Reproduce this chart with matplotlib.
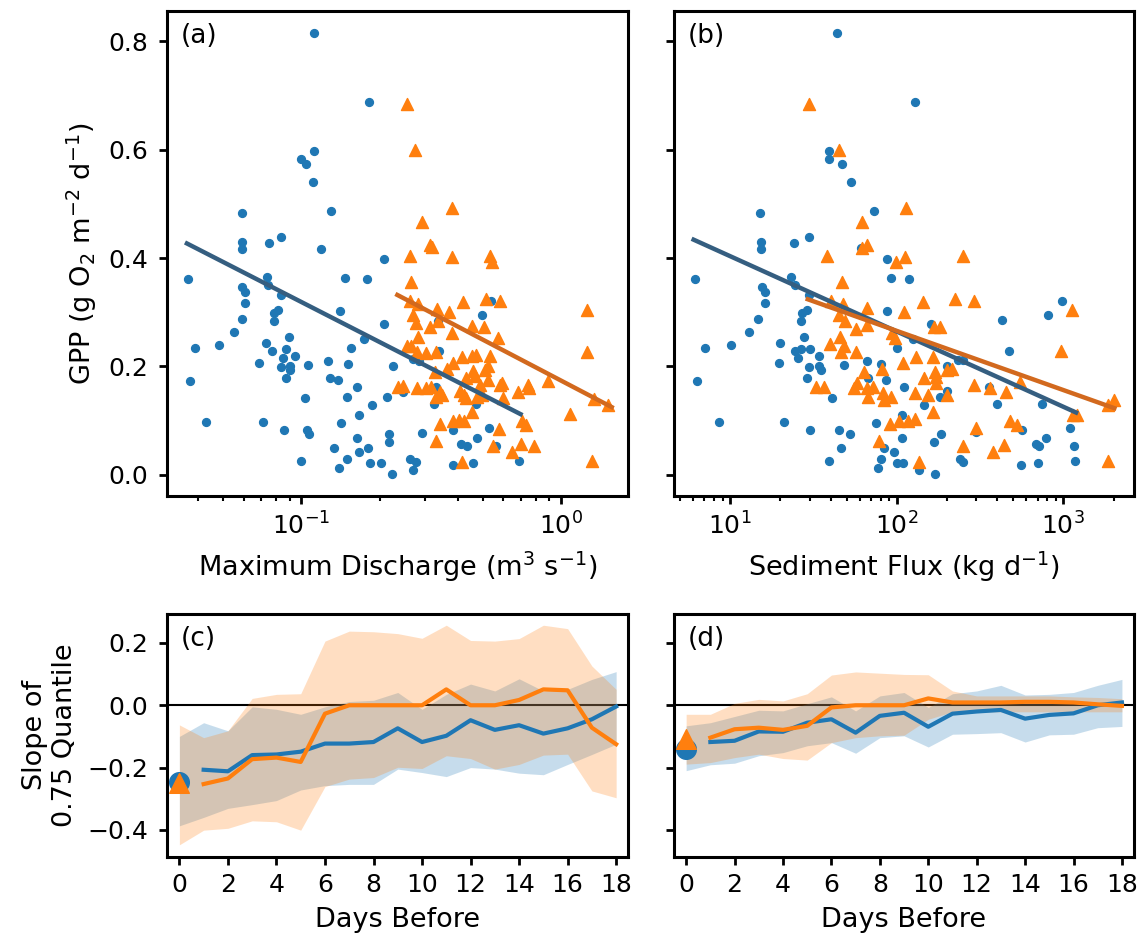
import numpy as np
import matplotlib
matplotlib.use("Agg")
import matplotlib.pyplot as plt

# ---- panel (a): GPP vs maximum discharge ----
discharge_blue = [0.112, 0.182, 0.112, 0.100, 0.104, 0.111, 0.130, 0.0589, 0.0589, 0.0588,
                  0.0750, 0.0835, 0.119, 0.208, 0.0366, 0.0735, 0.0745, 0.1466, 0.179, 0.0592,
                  0.0607, 0.0834, 0.0605, 0.0813, 0.0782, 0.141, 0.0588, 0.0782, 0.494, 0.536,
                  0.207, 0.336, 0.0548, 0.0894, 0.174, 0.0390, 0.0482, 0.0731, 0.0768, 0.0873,
                  0.1555, 0.338, 0.094, 0.0848, 0.0685, 0.0834, 0.0902, 0.0902, 0.106, 0.127,
                  0.151, 0.225, 0.0875, 0.0373, 0.129, 0.138, 0.270, 0.284, 0.163, 0.245,
                  0.103, 0.150, 0.213, 0.187, 0.324, 0.472, 0.166, 0.0427, 0.0711, 0.142,
                  0.0853, 0.105, 0.107, 0.291, 0.385, 0.526, 0.218, 0.217, 0.164, 0.473,
                  0.133, 0.167, 0.180, 0.413, 0.436, 0.561, 0.100, 0.150, 0.139, 0.183,
                  0.202, 0.224, 0.262, 0.275, 0.268, 0.385, 0.458, 0.689, 0.329]
gpp_blue_a = [0.816, 0.688, 0.597, 0.582, 0.574, 0.541, 0.487, 0.484, 0.430, 0.416,
              0.427, 0.439, 0.417, 0.399, 0.362, 0.365, 0.350, 0.363, 0.361, 0.347,
              0.337, 0.332, 0.317, 0.305, 0.298, 0.302, 0.288, 0.283, 0.295, 0.321,
              0.278, 0.284, 0.264, 0.254, 0.251, 0.235, 0.240, 0.243, 0.229, 0.233,
              0.234, 0.229, 0.219, 0.216, 0.206, 0.199, 0.201, 0.193, 0.203, 0.211,
              0.204, 0.201, 0.179, 0.174, 0.179, 0.175, 0.213, 0.210, 0.162, 0.153,
              0.142, 0.143, 0.143, 0.129, 0.130, 0.131, 0.111, 0.097, 0.097, 0.095,
              0.083, 0.083, 0.076, 0.078, 0.082, 0.087, 0.076, 0.060, 0.068, 0.068,
              0.049, 0.042, 0.049, 0.057, 0.054, 0.053, 0.025, 0.029, 0.013, 0.021,
              0.021, 0.002, 0.029, 0.023, 0.008, 0.019, 0.022, 0.025, 0.163]

discharge_orange = [0.255, 0.274, 0.379, 0.292, 0.313, 0.317, 0.262, 0.381, 0.532, 0.543,
                    0.263, 0.516, 0.582, 0.418, 0.262, 0.280, 0.268, 0.332, 0.369, 0.276,
                    1.256, 0.312, 0.336, 0.454, 0.503, 0.381, 0.280, 0.573, 0.254, 0.265,
                    0.278, 0.302, 0.330, 0.414, 0.452, 0.470, 0.532, 1.256, 0.385, 0.363,
                    0.327, 0.459, 0.508, 0.524, 0.432, 0.466, 0.524, 0.582, 0.593, 0.489,
                    0.236, 0.245, 0.279, 0.303, 0.316, 0.341, 0.331, 0.348, 0.407, 0.423,
                    0.430, 0.473, 0.494, 0.600, 0.684, 0.748, 0.754, 0.888, 1.334, 1.510,
                    1.083, 0.452, 0.385, 0.403, 0.421, 0.343, 0.704, 0.735, 0.578, 0.330,
                    0.547, 0.645, 0.700, 0.786, 0.414, 1.313]
gpp_orange_a = [0.684, 0.599, 0.492, 0.466, 0.425, 0.421, 0.404, 0.402, 0.404, 0.393,
                0.355, 0.324, 0.321, 0.319, 0.320, 0.316, 0.295, 0.306, 0.301, 0.281,
                0.305, 0.273, 0.283, 0.275, 0.272, 0.262, 0.254, 0.253, 0.238, 0.237,
                0.227, 0.224, 0.226, 0.218, 0.220, 0.222, 0.219, 0.227, 0.206, 0.195,
                0.190, 0.192, 0.194, 0.200, 0.178, 0.182, 0.175, 0.166, 0.169, 0.166,
                0.163, 0.164, 0.161, 0.160, 0.163, 0.152, 0.144, 0.147, 0.154, 0.147,
                0.141, 0.144, 0.147, 0.141, 0.152, 0.166, 0.160, 0.173, 0.140, 0.128,
                0.112, 0.116, 0.100, 0.101, 0.100, 0.094, 0.100, 0.092, 0.085, 0.063,
                0.053, 0.042, 0.057, 0.053, 0.023, 0.026]

# fitted lines (end points)
fit_a_blue_x = [0.0362, 0.698]
fit_a_blue_y = [0.427, 0.112]
fit_a_orange_x = [0.234, 1.567]
fit_a_orange_y = [0.332, 0.125]

# ---- panel (b): GPP vs sediment flux ----
sediment_blue = [43.9, 128.2, 39.4, 39.3, 46.8, 53.2, 72.8, 15.1, 15.3, 15.3,
                 24.3, 29.8, 61.1, 87.9, 6.17, 23.2, 24.5, 92.0, 118.6, 15.6,
                 16.1, 29.8, 16.1, 28.8, 26.9, 87.1, 14.6, 26.7, 813, 977,
                 160.7, 430.5, 12.9, 27.7, 125.9, 7.01, 10.1, 20.0, 24.5, 26.5,
                 100, 472, 30.2, 25.5, 19.7, 29.9, 34.2, 35.2, 47.9, 34.0,
                 65.8, 80.2, 201, 28.8, 6.34, 67.3, 85.9, 232, 251, 360,
                 201, 40.6, 110.7, 182, 146, 398, 741, 107.6, 8.51, 21.1,
                 74.5, 30.1, 44.7, 52.7, 298, 567, 1096, 184.5, 167, 107.9,
                 791, 46.3, 95.9, 83.6, 682, 715, 1153, 39.1, 80.5, 77.4,
                 100.9, 109.1, 169.8, 241, 250, 135.5, 557, 704, 1169]
gpp_blue_b = [0.816, 0.688, 0.597, 0.582, 0.574, 0.541, 0.487, 0.484, 0.430, 0.416,
              0.427, 0.439, 0.418, 0.399, 0.362, 0.365, 0.350, 0.363, 0.361, 0.347,
              0.337, 0.332, 0.317, 0.305, 0.298, 0.302, 0.288, 0.283, 0.295, 0.321,
              0.278, 0.285, 0.264, 0.254, 0.251, 0.235, 0.240, 0.243, 0.229, 0.233,
              0.234, 0.229, 0.233, 0.216, 0.206, 0.199, 0.201, 0.193, 0.203, 0.219,
              0.211, 0.204, 0.201, 0.179, 0.174, 0.178, 0.175, 0.212, 0.212, 0.163,
              0.154, 0.142, 0.162, 0.144, 0.129, 0.130, 0.131, 0.111, 0.097, 0.097,
              0.095, 0.083, 0.083, 0.076, 0.079, 0.082, 0.087, 0.076, 0.060, 0.068,
              0.068, 0.049, 0.042, 0.049, 0.057, 0.053, 0.053, 0.025, 0.029, 0.012,
              0.021, 0.021, 0.002, 0.029, 0.023, 0.008, 0.019, 0.022, 0.025]

sediment_orange = [29.8, 45.1, 113.8, 62.2, 66.1, 62.2, 38.2, 112.7, 249, 98.6,
                   46.8, 225, 291, 144.5, 40.4, 47.3, 66.1, 1132, 110, 45.1,
                   49, 56.5, 66.1, 167.5, 182, 94.2, 97.7, 45.3, 39.6, 47.9,
                   46.3, 57, 968, 130.6, 166, 108.6, 201, 215, 82, 63.7,
                   169.8, 146, 172.6, 32.7, 36.6, 55.7, 57.5, 66.1, 72.4, 66.7,
                   82.4, 83.2, 92, 129.4, 154, 173, 200, 291, 363, 451,
                   550, 164, 90.4, 103.3, 117.5, 128.8, 299, 478.6, 528, 1138,
                   1205, 1862, 2011, 78.7, 250, 380, 437, 135.5, 1862]
gpp_orange_b = [0.684, 0.599, 0.492, 0.466, 0.425, 0.419, 0.404, 0.402, 0.404, 0.393,
                0.355, 0.324, 0.321, 0.319, 0.321, 0.316, 0.307, 0.305, 0.301, 0.295,
                0.283, 0.270, 0.276, 0.273, 0.273, 0.261, 0.253, 0.254, 0.241, 0.237,
                0.227, 0.227, 0.229, 0.217, 0.218, 0.206, 0.194, 0.195, 0.195, 0.190,
                0.190, 0.179, 0.181, 0.163, 0.163, 0.161, 0.169, 0.160, 0.163, 0.143,
                0.151, 0.139, 0.144, 0.151, 0.147, 0.170, 0.147, 0.165, 0.160, 0.152,
                0.171, 0.116, 0.094, 0.100, 0.100, 0.103, 0.086, 0.100, 0.092, 0.111,
                0.111, 0.129, 0.139, 0.063, 0.053, 0.042, 0.055, 0.023, 0.026]

fit_b_blue_x = [6.03, 1191]
fit_b_blue_y = [0.434, 0.115]
fit_b_orange_x = [29.2, 2023]
fit_b_orange_y = [0.324, 0.123]

# ---- panels (c), (d): slope of 0.75 quantile vs days before ----
days = list(range(0, 19))
days_lag = list(range(1, 19))

c_blue = [-0.207, -0.212, -0.160, -0.158, -0.149, -0.123, -0.123, -0.118, -0.074,
          -0.118, -0.098, -0.048, -0.079, -0.064, -0.091, -0.074, -0.045, -0.004]
c_orange = [-0.253, -0.235, -0.173, -0.168, -0.182, -0.027, 0.0, 0.0, 0.0,
            0.0, 0.051, 0.0, 0.0, 0.017, 0.051, 0.048, -0.072, -0.125]
c_blue_hi = [-0.100, -0.056, -0.082, -0.005, -0.013, -0.029, -0.005, 0.012, 0.016, 0.041,
             -0.013, 0.035, 0.068, 0.046, 0.085, 0.046, 0.051, 0.083, 0.108]
c_blue_lo = [-0.387, -0.360, -0.331, -0.319, -0.306, -0.272, -0.258, -0.254, -0.254, -0.205,
             -0.216, -0.229, -0.200, -0.205, -0.218, -0.223, -0.190, -0.158, -0.125]
c_orange_hi = [-0.063, -0.104, -0.082, 0.022, 0.035, 0.037, 0.206, 0.238, 0.236, 0.230,
               0.215, 0.257, 0.208, 0.206, 0.214, 0.257, 0.246, 0.126, 0.051]
c_orange_lo = [-0.448, -0.401, -0.395, -0.371, -0.374, -0.401, -0.261, -0.237, -0.232, -0.199,
               -0.203, -0.162, -0.171, -0.205, -0.190, -0.160, -0.157, -0.275, -0.297]
c_day0_blue = -0.246
c_day0_orange = -0.251

d_blue = [-0.118, -0.114, -0.084, -0.085, -0.056, -0.045, -0.088, -0.034, -0.024,
          -0.069, -0.027, -0.020, -0.015, -0.043, -0.031, -0.026, 0.0, 0.009]
d_orange = [-0.104, -0.077, -0.072, -0.079, -0.066, -0.007, 0.0, 0.0, 0.0,
            0.022, 0.009, 0.009, 0.009, 0.011, 0.011, 0.009, 0.003, -0.002]
d_blue_hi = [-0.066, -0.056, -0.036, -0.016, -0.018, 0.005, 0.027, -0.018, 0.030, 0.041,
             -0.007, 0.037, 0.046, 0.064, 0.033, 0.035, 0.041, 0.064, 0.083]
d_blue_lo = [-0.210, -0.191, -0.186, -0.162, -0.152, -0.130, -0.120, -0.154, -0.104, -0.098,
             -0.134, -0.093, -0.091, -0.088, -0.118, -0.095, -0.093, -0.072, -0.068]
d_orange_hi = [-0.029, -0.029, 0.006, 0.019, 0.014, 0.037, 0.097, 0.107, 0.103, 0.099,
               0.098, 0.046, 0.030, 0.030, 0.030, 0.030, 0.027, 0.025, 0.021]
d_orange_lo = [-0.189, -0.184, -0.168, -0.157, -0.171, -0.176, -0.120, -0.104, -0.098, -0.096,
               -0.045, -0.021, -0.021, -0.021, -0.021, -0.021, -0.021, -0.021, -0.021]
d_day0_blue = -0.139
d_day0_orange = -0.107

BLUE = "#1f77b4"
ORANGE = "#ff7f0e"
FIT_BLUE = "#355e80"
FIT_ORANGE = "#d2691e"

plt.rcParams["font.family"] = "DejaVu Sans"
plt.rcParams["font.size"] = 19.5
plt.rcParams["xtick.labelsize"] = 18
plt.rcParams["ytick.labelsize"] = 18
plt.rcParams["axes.linewidth"] = 2.2
plt.rcParams["xtick.major.width"] = 2
plt.rcParams["ytick.major.width"] = 2
plt.rcParams["xtick.major.size"] = 6
plt.rcParams["ytick.major.size"] = 6
plt.rcParams["xtick.major.pad"] = 6
plt.rcParams["ytick.major.pad"] = 7.5
plt.rcParams["xtick.minor.width"] = 1.5
plt.rcParams["xtick.minor.size"] = 3.5
plt.rcParams["axes.labelpad"] = 7

fig = plt.figure(figsize=(11.44, 9.42), dpi=100)
ax_a = fig.add_axes([0.1462, 0.4735, 0.4030, 0.5148])
ax_b = fig.add_axes([0.5892, 0.4735, 0.4021, 0.5148], sharey=ax_a)
ax_c = fig.add_axes([0.1462, 0.0906, 0.4030, 0.2576])
ax_d = fig.add_axes([0.5892, 0.0906, 0.4021, 0.2576], sharey=ax_c)

# scatter panels
ax_a.scatter(discharge_blue, gpp_blue_a, s=32, color=BLUE, zorder=2)
ax_a.scatter(discharge_orange, gpp_orange_a, s=75, marker="^", color=ORANGE, zorder=2)
ax_a.plot(fit_a_blue_x, fit_a_blue_y, color=FIT_BLUE, lw=3.2, zorder=3)
ax_a.plot(fit_a_orange_x, fit_a_orange_y, color=FIT_ORANGE, lw=3.2, zorder=3)
ax_a.set_xscale("log")
ax_a.set_xlim(0.0304, 1.815)
ax_a.set_ylim(-0.039, 0.856)
ax_a.set_xlabel("Maximum Discharge (m$^3$ s$^{-1}$)")
ax_a.set_ylabel("GPP (g O$_2$ m$^{-2}$ d$^{-1}$)")
ax_a.set_yticks([0.0, 0.2, 0.4, 0.6, 0.8])

ax_b.scatter(sediment_blue, gpp_blue_b, s=32, color=BLUE, zorder=2)
ax_b.scatter(sediment_orange, gpp_orange_b, s=75, marker="^", color=ORANGE, zorder=2)
ax_b.plot(fit_b_blue_x, fit_b_blue_y, color=FIT_BLUE, lw=3.2, zorder=3)
ax_b.plot(fit_b_orange_x, fit_b_orange_y, color=FIT_ORANGE, lw=3.2, zorder=3)
ax_b.set_xscale("log")
ax_b.set_xlim(4.6, 2655)
ax_b.set_xlabel("Sediment Flux (kg d$^{-1}$)")
ax_b.tick_params(labelleft=False)

# quantile slope panels
def slope_panel(ax, blue, orange, blue_hi, blue_lo, orange_hi, orange_lo, day0_b, day0_o):
    ax.axhline(0, color="black", lw=1.5, zorder=1)
    ax.fill_between(days, blue_lo, blue_hi, color=BLUE, alpha=0.25, lw=0)
    ax.fill_between(days, orange_lo, orange_hi, color=ORANGE, alpha=0.25, lw=0)
    ax.plot(days_lag, blue, color=BLUE, lw=3, zorder=3)
    ax.plot(days_lag, orange, color=ORANGE, lw=3, zorder=3)
    ax.scatter([0], [day0_b], s=200, color=BLUE, zorder=4, clip_on=False)
    ax.scatter([0], [day0_o], s=200, marker="^", color=ORANGE, zorder=5, clip_on=False)
    ax.set_xlim(-0.5, 18.5)
    ax.set_xticks(range(0, 19, 2))
    ax.set_xlabel("Days Before")

slope_panel(ax_c, c_blue, c_orange, c_blue_hi, c_blue_lo, c_orange_hi, c_orange_lo,
            c_day0_blue, c_day0_orange)
slope_panel(ax_d, d_blue, d_orange, d_blue_hi, d_blue_lo, d_orange_hi, d_orange_lo,
            d_day0_blue, d_day0_orange)
ax_c.set_ylim(-0.486, 0.293)
ax_c.set_yticks([-0.4, -0.2, 0.0, 0.2])
ax_c.set_ylabel("Slope of\n0.75 Quantile")
ax_d.tick_params(labelleft=False)

for ax, lab in [(ax_a, "(a)"), (ax_b, "(b)")]:
    ax.text(0.03, 0.975, lab, transform=ax.transAxes, va="top", ha="left", fontsize=19)
for ax, lab in [(ax_c, "(c)"), (ax_d, "(d)")]:
    ax.text(0.03, 0.95, lab, transform=ax.transAxes, va="top", ha="left", fontsize=19)

fig.savefig("out.png", dpi=100)
